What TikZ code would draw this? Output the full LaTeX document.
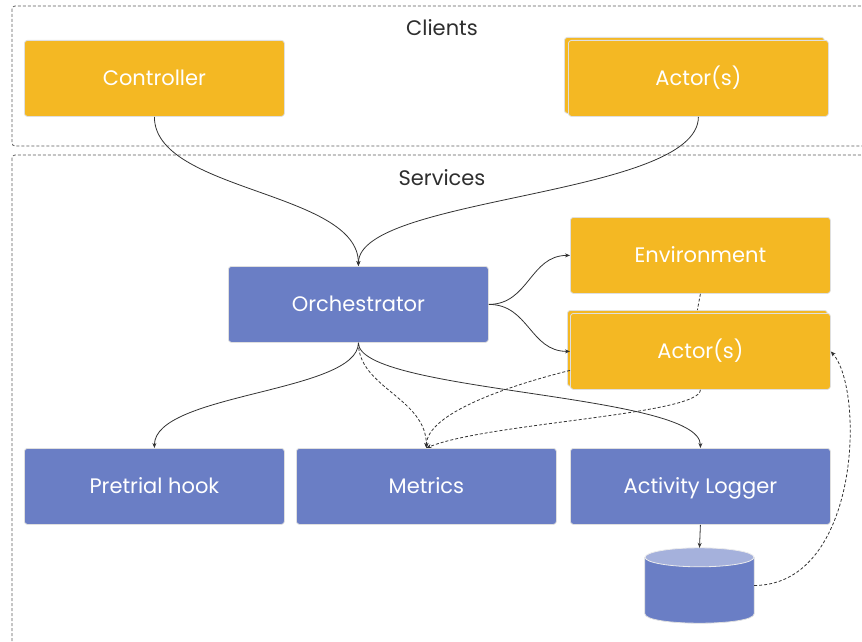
\documentclass[tikz,border=0pt]{standalone}
\usepackage{fontspec}
\setmainfont{Poppins}
\usetikzlibrary{arrows.meta}
\definecolor{ylw}{HTML}{F4B823}
\definecolor{blu}{HTML}{6A7EC5}
\definecolor{blulight}{HTML}{A5B1DC}
\definecolor{ln}{HTML}{333333}
\begin{document}
\begin{tikzpicture}[x=1pt,y=-1pt,
  box/.style={draw=gray!25, line width=0.8pt, rounded corners=3pt, minimum width=260pt, minimum height=76pt, inner sep=0pt, text=white, font=\fontsize{21}{24}\selectfont, text height=15pt, text depth=0pt, anchor=north west},
  ybox/.style={box, fill=ylw},
  bbox/.style={box, fill=blu},
  group/.style={draw=ln!80, dash pattern=on 3pt off 2pt, line width=0.8pt, rounded corners=3pt},
  conn/.style={draw=ln, line width=0.8pt, -{Stealth[length=5pt,width=4pt]}},
  dconn/.style={conn, dash pattern=on 3pt off 2pt},
  dline/.style={draw=ln, line width=0.8pt, dash pattern=on 3pt off 2pt},
  title/.style={font=\fontsize{21}{24}\selectfont, text=ln!90!black}
]
\useasboundingbox (0,0) rectangle (862,642);
\draw[group] (12,6) rectangle (880,146);
\draw[group] (12,155) rectangle (880,670);
\node[title] (clients) at (442,28) {Clients};
\node[title] (services) at (442,178) {Services};

\node[ybox] (ctrl) at (24,40) {Controller};
\node[ybox] (actB) at (564,37) {};
\node[ybox] (act) at (568,40) {Actor(s)};
\node[bbox] (orch) at (228,266) {Orchestrator};
\node[ybox] (env) at (570,217) {Environment};
\node[ybox] (act2B) at (567,310) {};
\node[ybox] (act2) at (570,313) {Actor(s)};
\node[bbox] (pre) at (24,448) {Pretrial hook};
\node[bbox] (met) at (296,448) {Metrics};
\node[bbox] (log) at (570,448) {Activity Logger};
\node[minimum width=109pt, minimum height=75pt, inner sep=0pt] (db) at (699.5,585.5) {};

% cylinder
\path[fill=blu, draw=gray!25, line width=0.8pt] (db.north west) ++(0,9.5) -- ([yshift=9.5pt]db.south west)
  .. controls +(0,12.67) and +(0,12.67) .. ([yshift=9.5pt]db.south east) -- ([yshift=-9.5pt]db.north east) -- cycle;
\path[fill=blulight, draw=gray!15, line width=0.8pt] ([yshift=-9.5pt]db.north) ellipse [x radius=54.5pt, y radius=9.5pt];

\draw[conn] (ctrl.south) .. controls +(0,75) and +(0,-75) .. (orch.north);
\draw[conn] (act.south) .. controls +(0,80) and +(0,-70) .. (orch.north);
\draw[conn] (orch.east) .. controls +(40,0) and +(-40,0) .. (env.west);
\draw[conn] (orch.east) .. controls +(40,0) and +(-40,0) .. (act2.west);
\draw[conn] (orch.south) .. controls +(0,50) and +(0,-55) .. (pre.north);
\draw[dconn] (orch.south) .. controls +(0,45) and +(0,-50) .. (met.north);
\draw[conn] (orch.south) .. controls +(0,50) and +(0,-55) .. (log.north);
\draw[dconn] ([yshift=-19pt]act2.west) .. controls +(-60,15) and +(0,-35) .. (met.north);
\draw[dconn] (act2.south) .. controls +(0,25) and +(60,-25) .. (met.north);
\draw[dline] (env.south) -- (act2B.north);
\draw[conn] (log.south) -- (db.north);
\draw[dconn] (db.east) .. controls (860,585) and (865,390) .. (act2.east);
\end{tikzpicture}
\end{document}
